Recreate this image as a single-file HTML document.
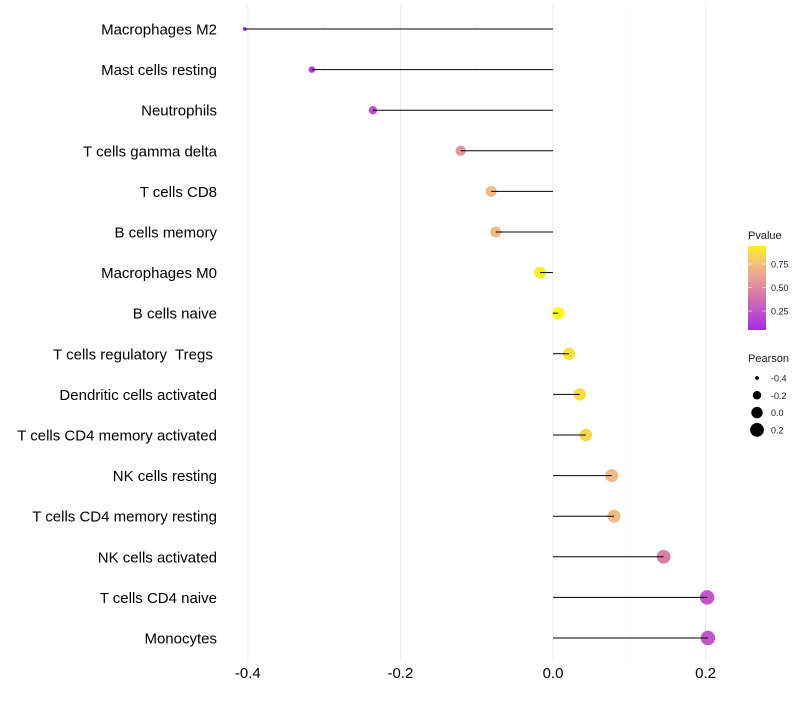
<!DOCTYPE html>
<html><head><meta charset="utf-8"><style>
body{margin:0;background:#fff;font-family:"Liberation Sans",sans-serif}
</style></head><body>
<svg id="chart" width="800" height="700" xmlns="http://www.w3.org/2000/svg" font-family="Liberation Sans, sans-serif">
<g id="grid"></g>
<g id="rows"></g>
<g id="xaxis"></g>
<g id="legend"></g>
</svg>
<script>
const categories=["Macrophages M2","Mast cells resting","Neutrophils","T cells gamma delta","T cells CD8","B cells memory","Macrophages M0","B cells naive","T cells regulatory  Tregs ","Dendritic cells activated","T cells CD4 memory activated","NK cells resting","T cells CD4 memory resting","NK cells activated","T cells CD4 naive","Monocytes"];
const pearson=[-0.404,-0.316,-0.236,-0.121,-0.081,-0.075,-0.017,0.007,0.021,0.035,0.043,0.077,0.080,0.145,0.202,0.203];
const pvalue=[0.03,0.12,0.22,0.55,0.72,0.72,0.93,0.98,0.89,0.86,0.84,0.72,0.72,0.45,0.26,0.26];
const xTicks=[-0.4,-0.2,0.0,0.2];
const xTickLabels=["-0.4","-0.2","0.0","0.2"];
const xMinor=[-0.3,-0.1,0.1];
const pTicks=[0.25,0.5,0.75];
const pTickLabels=["0.25","0.50","0.75"];
const sizeTicks=[-0.4,-0.2,0.0,0.2];
const sizeTickLabels=["-0.4","-0.2","0.0","0.2"];

const NS="http://www.w3.org/2000/svg";
function mk(t,a,p){const e=document.createElementNS(NS,t);for(const k in a)e.setAttribute(k,a[k]);p.appendChild(e);return e;}
const x=v=>553+v*763;
const y=i=>29+i*40.6;
const r=v=>Math.sqrt(4+(v+0.4)/0.6*48);
const stops=[[0,[160,32,240]],[0.5,[222,138,160]],[0.75,[242,192,128]],[1,[255,255,0]]];
function col(p){p=Math.max(0,Math.min(1,p));let k=0;while(k<stops.length-2&&p>stops[k+1][0])k++;const a=stops[k],b=stops[k+1];
 const t=(p-a[0])/(b[0]-a[0]);const c=a[1].map((v,i)=>Math.round(v+(b[1][i]-v)*t));return `rgb(${c})`;}
const grid=document.getElementById('grid');
xMinor.forEach(v=>{const l=mk('line',{x1:x(v),x2:x(v),y1:5,y2:662,stroke:'#f2f2f2','stroke-width':0.6},grid);

});
xTicks.forEach(v=>{const l=mk('line',{x1:x(v),x2:x(v),y1:5,y2:662,stroke:'#ebebeb','stroke-width':1},grid);

});
const rows=document.getElementById('rows');
categories.forEach((c,i)=>{
 const g=mk('g',{},rows);
 
 
 const t=mk('text',{x:217,y:y(i)+5.5,'text-anchor':'end','font-size':15,fill:'#000'},g);t.textContent=c;
 t.setAttribute('xml:space','preserve');
 t.style.whiteSpace='pre';
 
 
 const pt=mk('circle',{cx:x(pearson[i]),cy:y(i),r:r(pearson[i]),fill:col(pvalue[i])},g);
 
 
 const ln=mk('line',{x1:x(pearson[i]),x2:x(0),y1:y(i),y2:y(i),stroke:'#000','stroke-width':1},g);
 
 
});
const xa=document.getElementById('xaxis');
xTicks.forEach((v,i)=>{const t=mk('text',{x:x(v),y:678,'text-anchor':'middle','font-size':15,fill:'#000'},xa);t.textContent=xTickLabels[i];

});
const lg=document.getElementById('legend');
const tt=mk('text',{x:748,y:239,'font-size':11,fill:'#1a1a1a'},lg);tt.textContent='Pvalue';


const defs=mk('defs',{},lg);const gr=mk('linearGradient',{id:'pg',x1:0,y1:1,x2:0,y2:0},defs);
for(let k=0;k<=10;k++){const p=0.05+k*0.089;mk('stop',{offset:k/10,'stop-color':col(p)},gr);}
const bar=mk('rect',{x:748,y:246,width:18,height:84,fill:'url(#pg)'},lg);


const py=p=>334.5-p*94;
pTicks.forEach((p,i)=>{mk('line',{x1:748,x2:752,y1:py(p),y2:py(p),stroke:'#fff','stroke-width':0.6},lg);mk('line',{x1:762,x2:766,y1:py(p),y2:py(p),stroke:'#fff','stroke-width':0.6},lg);
 const t=mk('text',{x:771,y:py(p)+3.5,'font-size':9,fill:'#1a1a1a'},lg);t.textContent=pTickLabels[i];
 
 });
const st=mk('text',{x:748,y:362,'font-size':11,fill:'#1a1a1a'},lg);st.textContent='Pearson';


sizeTicks.forEach((v,i)=>{const cy=378+i*17.3;
 const c=mk('circle',{cx:757,cy:cy,r:r(v)*0.95,fill:'#000'},lg);
 
 
 const t=mk('text',{x:771,y:cy+3.5,'font-size':9,fill:'#1a1a1a'},lg);t.textContent=sizeTickLabels[i];
 
 });
</script>
</body></html>
